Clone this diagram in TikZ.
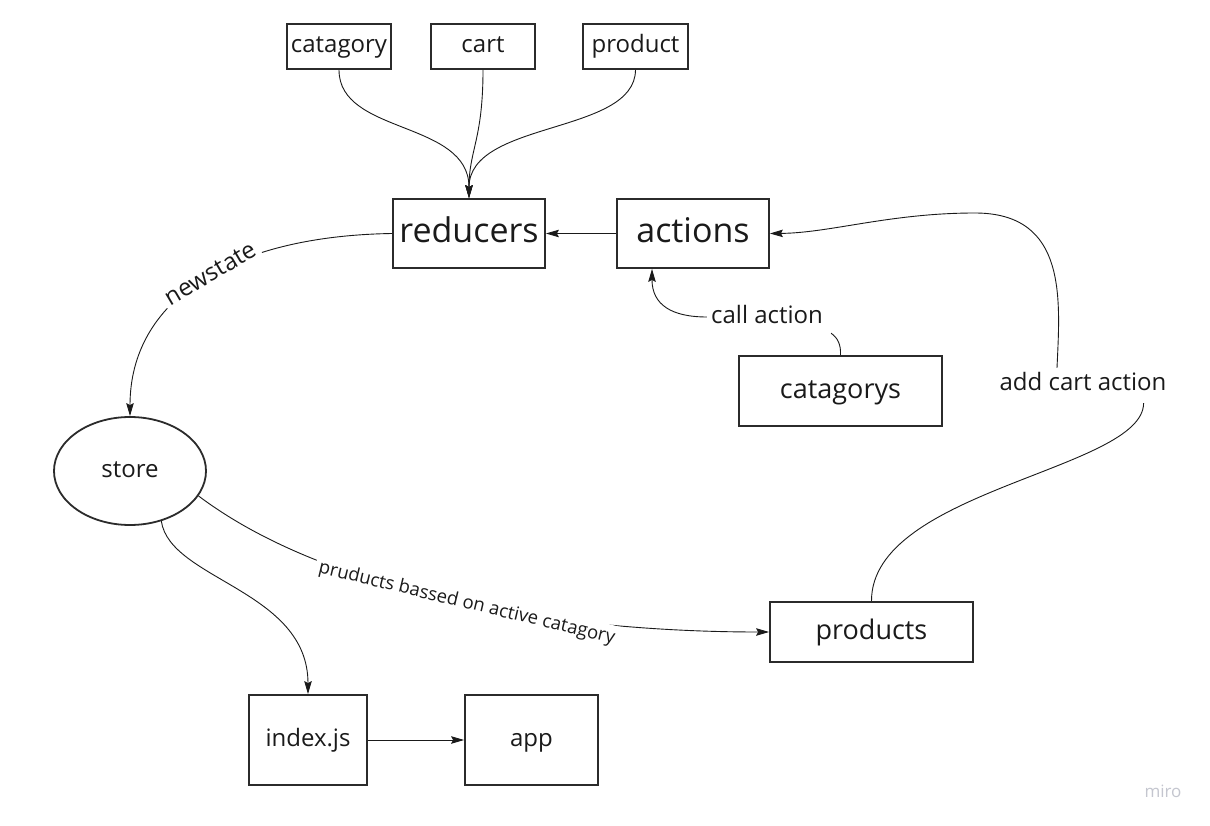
\documentclass[tikz,border=0pt]{standalone}
\usepackage{fontspec}
\setmainfont{Open Sans}
\usetikzlibrary{arrows.meta,shapes.geometric}
\definecolor{ink}{HTML}{1A1A1A}
\definecolor{boxline}{HTML}{2B2B2B}
\definecolor{wm}{HTML}{C4C6CF}
\begin{document}
\begin{tikzpicture}[x=1pt,y=-1pt,
  tA/.style={font=\fontsize{24}{28}\selectfont, text height=18.2pt, text depth=5.8pt},
  tB/.style={font=\fontsize{34}{40}\selectfont, text height=25.8pt, text depth=8.2pt},
  tC/.style={font=\fontsize{27}{32}\selectfont, text height=20.5pt, text depth=6.5pt},
  tD/.style={font=\fontsize{18.5}{22}\selectfont, text height=14pt, text depth=4.4pt},
  box/.style={draw=boxline, line width=1.8pt, inner sep=0pt, text=ink, tA},
  conn/.style={draw=ink, line width=0.9pt},
  arr/.style={conn, -{Stealth[length=13pt,width=7.5pt,inset=2pt]}},
  lbl/.style={inner sep=4pt, text=ink, tA}]
\fill[white] (0,0) rectangle (1210,826);
\useasboundingbox (0,0) rectangle (1210,826);

% nodes
\node[box, minimum width=104pt, minimum height=45pt] (catagory) at (339,46.5) {catagory};
\node[box, minimum width=104pt, minimum height=45pt] (cart) at (483,46.5) {cart};
\node[box, minimum width=105pt, minimum height=45pt] (product) at (635.5,46.5) {product};
\node[box, tB, minimum width=152pt, minimum height=69pt] (reducers) at (469,233.5) {reducers};
\node[box, tB, minimum width=152pt, minimum height=69pt] (actions) at (693,233.5) {actions};
\node[box, tC, minimum width=203pt, minimum height=70pt] (catagorys) at (840.5,391) {catagorys};
\node[box, ellipse, minimum width=152pt, minimum height=108pt] (store) at (130,471) {store};
\node[box, tC, minimum width=203pt, minimum height=60pt] (products) at (871.5,632) {products};
\node[box, minimum width=118pt, minimum height=90pt] (index) at (308,740) {index.js};
\node[box, minimum width=133pt, minimum height=90pt] (app) at (531.5,740) {app};

\node[lbl] (callact) at (767,317) {call action};
\node[lbl, inner sep=4pt] (addcart) at (1083,384) {add cart action};
\node[text=wm, font=\fontsize{17}{20}\selectfont] (miro) at (1163,791) {miro};

% connectors
\draw[arr] (catagory.south) .. controls (339,135) and (469,120) .. (reducers.north);
\draw[arr] (cart.south) .. controls (483,140) and (469,150) .. (reducers.north);
\draw[arr] (product.south) .. controls (635,135) and (469,120) .. (reducers.north);
\draw[arr] (actions.west) -- (reducers.east);
\draw[arr] (reducers.west) .. controls (230,236) and (130,300) .. (store.north)
  node[lbl, pos=0.46, sloped, fill=white] (newstate) {newstate};
\draw[conn] (catagorys.north) .. controls (841,345) and (838,338) .. ([xshift=4pt]callact.south east);
\draw[arr] (callact.west) .. controls (672,317) and (652,305) .. ([xshift=-41pt]actions.south);
\draw[conn] (products.north) .. controls (871,490) and (1143,470) .. ([xshift=-27pt,yshift=-3pt]addcart.south east);
\draw[arr] ([xshift=-26pt]addcart.north) .. controls (1060,300) and (1068,213) .. (975,213)
  .. controls (890,213) and (830,233) .. (actions.east);
\draw[arr] (store.-20) .. controls (330,595) and (560,632) .. (products.west)
  node[lbl, tD, pos=0.52, rotate=-13.5, fill=white] (pbased) {pruducts bassed on active catagory};
\draw[arr] (store.-58) .. controls (170,580) and (308,590) .. (index.north);
\draw[arr] (index.east) -- (app.west);
\end{tikzpicture}
\end{document}
